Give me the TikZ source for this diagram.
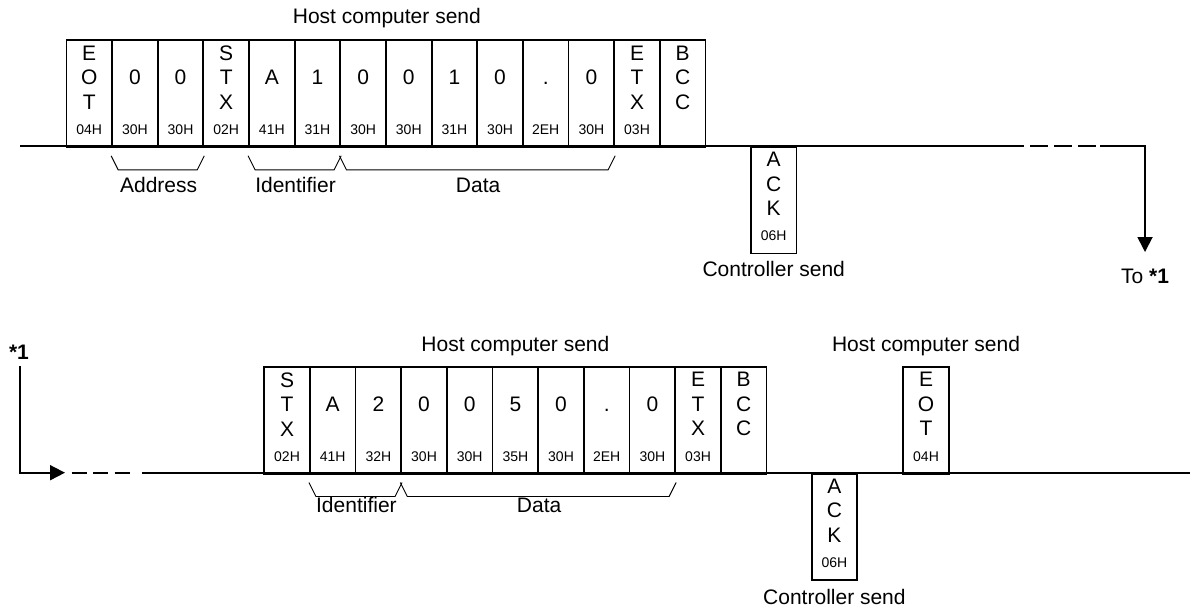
\documentclass[tikz,border=0pt]{standalone}
\usepackage{fontspec}
\setmainfont{Liberation Sans}
\usetikzlibrary{arrows.meta}

\tikzset{
  cell/.style={draw, line width=1.8pt, anchor=north west, minimum width=45.65pt, minimum height=106.5pt, inner sep=0pt},
  chars/.style={align=center, font=\fontsize{21}{24.5}\selectfont, inner sep=0pt},
  hexcode/.style={font=\fontsize{14}{16}\selectfont, inner sep=0pt},
  caption/.style={font=\fontsize{21}{24}\selectfont, inner sep=0pt, text height=15pt, text depth=0pt},
  brace/.style={line width=0.9pt},
  wire/.style={line width=1.8pt},
  tip/.style={-{Triangle[length=15pt,width=15pt]}},
}

\begin{document}
\begin{tikzpicture}[x=1pt, y=-1pt]
\useasboundingbox (0,0) rectangle (1190,607);

\foreach \t/\h [count=\i from 0] in {{E\\O\\T}/04H, 0/30H, 0/30H, {S\\T\\X}/02H, A/41H, 1/31H, 0/30H, 0/30H, 1/31H, 0/30H, {\vphantom{0}.}/2EH, 0/30H, {E\\T\\X}/03H, {B\\C\\C}/{}} {
  \node[cell] (a\i) at ({65.5+45.65*\i},39.5) {};
  \node[chars] at ([yshift=-38pt]a\i.north) {\t};
  \node[hexcode] at ([yshift=-90pt]a\i.north) {\h};
}
\node[cell] (ack1) at (750,146) {};
\node[chars] at ([yshift=-38pt]ack1.north) {A\\C\\K};
\node[hexcode] at ([yshift=-90pt]ack1.north) {06H};

\node[caption] (host1) at ([yshift=23pt]a6.north east) {Host computer send};
\node[caption] (ctrl1) at ([yshift=-15pt]ack1.south) {Controller send};

\draw[brace] ([yshift=-8pt]a1.south west) -- ++(7,14) -- ([xshift=-7pt,yshift=-22pt]a2.south east) -- ([yshift=-8pt]a2.south east);
\draw[brace] ([yshift=-8pt]a4.south west) -- ++(7,14) -- ([xshift=-7pt,yshift=-22pt]a5.south east) -- ([yshift=-8pt]a5.south east);
\draw[brace] ([yshift=-8pt]a6.south west) -- ++(7,14) -- ([xshift=-7pt,yshift=-22pt]a11.south east) -- ([yshift=-8pt]a11.south east);
\node[caption] (addr) at ([yshift=-37pt]a1.south east) {Address};
\node[caption] (ident1) at ([yshift=-37pt]a4.south east) {Identifier};
\node[caption] (data1) at ([yshift=-37pt]a8.south east) {Data};

\coordinate (t0) at (20,146);
\coordinate (t1) at (1024,146);
\coordinate (t2) at (1100,146);
\coordinate (t3) at (1145,146);
\coordinate (t4) at (1145,252);
\draw[wire] (t0) -- (t1);
\draw[wire, dash pattern=on 18pt off 6pt, dash phase=18pt] (t1) -- (t2);
\draw[wire, tip] (t2) -- (t3) -- (t4);
\node[caption] (to1) at (1145,276) {To \textbf{*1}};

\foreach \t/\h [count=\i from 0] in {{S\\T\\X}/02H, A/41H, 2/32H, 0/30H, 0/30H, 5/35H, 0/30H, {\vphantom{0}.}/2EH, 0/30H, {E\\T\\X}/03H, {B\\C\\C}/{}} {
  \node[cell] (b\i) at ({263.3+45.67*\i},366.2) {};
  \node[chars] at ([yshift=-38pt]b\i.north) {\t};
  \node[hexcode] at ([yshift=-90pt]b\i.north) {\h};
}
\node[cell] (ack2) at (810.7,472.7) {};
\node[chars] at ([yshift=-38pt]ack2.north) {A\\C\\K};
\node[hexcode] at ([yshift=-90pt]ack2.north) {06H};
\node[cell] (eot) at (902.3,366.2) {};
\node[chars] at ([yshift=-38pt]eot.north) {E\\O\\T};
\node[hexcode] at ([yshift=-90pt]eot.north) {04H};

\node[caption] (host2) at ([yshift=22pt]b5.north) {Host computer send};
\node[caption] (host3) at ([yshift=22pt]eot.north) {Host computer send};
\node[caption] (ctrl2) at ([yshift=-16pt]ack2.south) {Controller send};

\draw[brace] ([yshift=-8pt]b1.south west) -- ++(7,14) -- ([xshift=-7pt,yshift=-22pt]b2.south east) -- ([yshift=-8pt]b2.south east);
\draw[brace] ([yshift=-8pt]b3.south west) -- ++(7,14) -- ([xshift=-7pt,yshift=-22pt]b8.south east) -- ([yshift=-8pt]b8.south east);
\node[caption] (ident2) at ([yshift=-30pt]b1.south east) {Identifier};
\node[caption] (data2) at ([yshift=-30pt]b5.south east) {Data};

\node[caption] (star) at (19,352) {\textbf{*1}};
\coordinate (s0) at (20,366);
\coordinate (s1) at (20,472.7);
\coordinate (s2) at (65,472.7);
\coordinate (s3) at (136,472.7);
\coordinate (s4) at (142,472.7);
\coordinate (s5) at (1190,472.7);
\draw[wire, tip] (s0) -- (s1) -- (s2);
\draw[wire, dash pattern=on 15pt off 6.5pt, dash phase=15pt] (s2) -- (s3);
\draw[wire] (s4) -- (s5);
\end{tikzpicture}
\end{document}
